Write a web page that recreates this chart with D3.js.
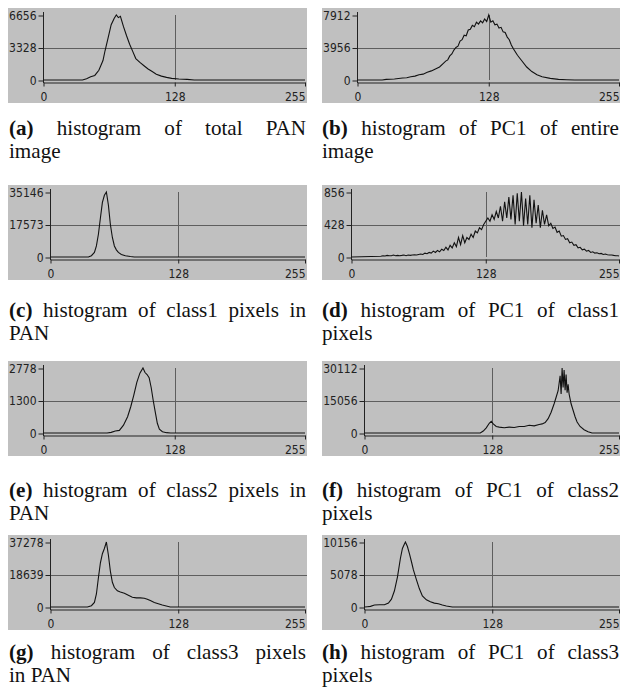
<!DOCTYPE html>
<html>
<head>
<meta charset="utf-8">
<script src="https://cdn.jsdelivr.net/npm/d3@7"></script>
<style>
  body { margin: 0; background: #fff; }
  svg { display: block; }
  .tick text, .probe { font-family: "Liberation Sans Narrow", "DejaVu Sans Condensed", "Arial Narrow", sans-serif; font-size: 12px; fill: #222; }
  .caption { font-family: "Liberation Serif", "Times New Roman", "DejaVu Serif Condensed", serif; font-size: 22px; fill: #111; }
</style>
</head>
<body>
<div id="figure"></div>
<script>
var width = 620;
var height = 693;

// x ticks are the same for every histogram (grey levels)
var xTicks = [0, 128, 255];

// (a) total PAN
var aBins   = [0, 38, 42, 46, 50, 54, 58, 60, 63, 66, 69, 71, 73, 75, 78, 81, 84, 87, 90, 94, 98, 102, 106, 110, 115, 120, 125, 132, 140, 147, 255];
var aCounts = [0, 0, 133, 333, 466, 998, 1997, 2995, 4326, 5658, 6323, 6656, 6390, 6523, 5458, 4526, 3661, 2929, 2196, 1797, 1464, 1132, 865, 599, 399, 266, 166, 100, 67, 0, 0];
var aYTicks = [0, 3328, 6656];
var aYLabels = ["0", "3328", "6656"];

// (b) PC1 of entire image
var bBins   = [0, 24, 28, 36, 44, 48, 52, 56, 60, 64, 68, 72, 76, 80, 84, 86, 88, 90, 92, 94, 96, 98, 100, 102, 104, 106, 108, 110, 112, 114, 116, 118, 120, 122, 124, 126, 128, 130, 132, 134, 136, 138, 140, 142, 144, 146, 148, 150, 152, 156, 160, 165, 170, 175, 180, 188, 196, 204, 212, 255];
var bCounts = [0, 0, 79, 119, 237, 277, 396, 475, 633, 712, 949, 1108, 1345, 1582, 2057, 2294, 2453, 2927, 3165, 3640, 3956, 4114, 4747, 4905, 5459, 5380, 6092, 6171, 6646, 6488, 7042, 6804, 7200, 6963, 7437, 7121, 7912, 7042, 7200, 6725, 6804, 6330, 6409, 5855, 5776, 5222, 4905, 4272, 3798, 3007, 2374, 1582, 1029, 633, 396, 198, 79, 32, 0, 0];
var bYTicks = [0, 3956, 7912];
var bYLabels = ["0", "3956", "7912"];

// (c) class1 pixels in PAN
var cBins   = [0, 38, 41, 44, 46, 48, 50, 52, 54, 56, 58, 60, 62, 64, 66, 68, 71, 75, 80, 84, 255];
var cCounts = [0, 0, 703, 2460, 5975, 12301, 21088, 29523, 33389, 35146, 28117, 17573, 10544, 5975, 3866, 2460, 1406, 703, 281, 0, 0];
var cYTicks = [0, 17573, 35146];
var cYLabels = ["0", "17573", "35146"];

// (d) PC1 of class1 pixels
var dBins   = [0, 28, 30, 32, 34, 36, 38, 40, 42, 44, 46, 48, 50, 52, 54, 56, 58, 60, 62, 64, 66, 68, 70, 72, 74, 76, 78, 80, 82, 84, 86, 88, 90, 92, 94, 96, 98, 100, 102, 104, 106, 108, 110, 112, 114, 116, 118, 120, 122, 124, 126, 128, 130, 132, 134, 136, 138, 140, 142, 144, 146, 148, 150, 152, 154, 156, 158, 160, 162, 164, 166, 168, 170, 172, 174, 176, 178, 180, 182, 184, 186, 188, 190, 192, 194, 196, 198, 200, 202, 204, 206, 208, 210, 212, 214, 216, 218, 220, 222, 224, 226, 228, 230, 232, 234, 236, 238, 240, 242, 244, 246, 248, 250, 252, 254, 255];
var dCounts = [0, 9, 17, 13, 21, 17, 17, 26, 17, 21, 17, 21, 26, 17, 26, 21, 26, 30, 26, 34, 39, 34, 51, 43, 60, 51, 77, 60, 86, 68, 103, 86, 128, 94, 154, 120, 188, 137, 257, 163, 282, 188, 257, 231, 300, 257, 342, 317, 385, 360, 428, 471, 514, 471, 556, 496, 599, 514, 668, 471, 728, 514, 788, 496, 813, 428, 839, 471, 856, 411, 770, 428, 813, 385, 753, 445, 685, 385, 616, 428, 556, 411, 445, 377, 394, 325, 342, 274, 282, 231, 240, 188, 197, 154, 163, 120, 128, 94, 103, 77, 86, 60, 68, 51, 56, 43, 47, 34, 39, 30, 26, 26, 21, 17, 17, 13];
var dYTicks = [0, 428, 856];
var dYLabels = ["0", "428", "856"];

// (e) class2 pixels in PAN
var eBins   = [0, 62, 66, 70, 74, 78, 82, 85, 88, 91, 94, 97, 99, 101, 103, 105, 107, 109, 111, 113, 116, 120, 124, 255];
var eCounts = [0, 0, 28, 83, 111, 333, 695, 1111, 1611, 2167, 2556, 2778, 2584, 2500, 2361, 1945, 1389, 889, 417, 167, 56, 14, 0, 0];
var eYTicks = [0, 1389, 2778];
var eYLabels = ["0", "1300", "2778"];

// (f) PC1 of class2 pixels
var fBins   = [0, 116, 119, 122, 125, 127, 129, 132, 135, 140, 145, 150, 155, 160, 165, 170, 175, 178, 181, 184, 187, 190, 192, 194, 196, 197, 198, 199, 200, 201, 202, 203, 204, 205, 207, 209, 211, 213, 216, 220, 224, 228, 255];
var fCounts = [0, 0, 903, 2409, 4517, 5420, 4216, 3011, 2710, 2409, 2710, 2560, 3011, 3011, 3613, 3312, 3915, 4216, 4818, 6625, 9636, 13550, 16562, 19573, 26499, 18067, 30112, 21078, 29209, 19874, 27101, 18669, 22584, 18067, 13550, 10539, 7528, 5119, 3011, 1506, 602, 0, 0];
var fYTicks = [0, 15056, 30112];
var fYLabels = ["0", "15056", "30112"];

// (g) class3 pixels in PAN
var gBins   = [0, 37, 41, 44, 46, 48, 50, 52, 54, 56, 58, 60, 62, 64, 67, 70, 74, 78, 82, 86, 90, 94, 97, 100, 104, 108, 112, 116, 120, 255];
var gCounts = [0, 0, 746, 2609, 7456, 16775, 25349, 30568, 33550, 37278, 29822, 20503, 14166, 11183, 9320, 8574, 7828, 6710, 5592, 5219, 5219, 5033, 4473, 3728, 2609, 1864, 1118, 559, 0, 0];
var gYTicks = [0, 18639, 37278];
var gYLabels = ["0", "18639", "37278"];

// (h) PC1 of class3 pixels
var hBins   = [0, 3, 6, 10, 15, 20, 24, 27, 30, 33, 36, 38, 40, 41, 43, 45, 47, 49, 52, 55, 58, 62, 66, 70, 74, 78, 82, 88, 255];
var hCounts = [0, 51, 102, 305, 355, 355, 609, 1219, 2539, 4672, 7617, 9140, 9851, 10156, 9445, 8328, 7109, 5789, 4266, 2844, 1727, 1117, 812, 609, 508, 305, 152, 0, 0];
var hYTicks = [0, 5078, 10156];
var hYLabels = ["0", "5078", "10156"];

// captions: bold tag, first line, second line
var captionTags = ["(a)", "(b)", "(c)", "(d)", "(e)", "(f)", "(g)", "(h)"];
var captionLine1 = [
  "histogram of total PAN",
  "histogram of PC1 of entire",
  "histogram of class1 pixels in",
  "histogram of PC1 of class1",
  "histogram of class2 pixels in",
  "histogram of PC1 of class2",
  "histogram of class3 pixels",
  "histogram of PC1 of class3"
];
var captionLine2 = ["image", "image", "PAN", "pixels", "PAN", "pixels", "in PAN", "pixels"];

var panels = [
  {bins: aBins, counts: aCounts, yTicks: aYTicks, yLabels: aYLabels},
  {bins: bBins, counts: bCounts, yTicks: bYTicks, yLabels: bYLabels},
  {bins: cBins, counts: cCounts, yTicks: cYTicks, yLabels: cYLabels},
  {bins: dBins, counts: dCounts, yTicks: dYTicks, yLabels: dYLabels},
  {bins: eBins, counts: eCounts, yTicks: eYTicks, yLabels: eYLabels},
  {bins: fBins, counts: fCounts, yTicks: fYTicks, yLabels: fYLabels},
  {bins: gBins, counts: gCounts, yTicks: gYTicks, yLabels: gYLabels},
  {bins: hBins, counts: hCounts, yTicks: hYTicks, yLabels: hYLabels}
];

// layout of the 4x2 grid
var rowTops = [8, 185, 361, 535];
var captionBase = [135, 317, 497, 659];
var lineGap = 23;
var colLeft = [8, 322];
var colRight = [307, 621];
var boxHeight = 95;
var squeeze = 0.96; // fallback serif runs a touch wide

var svg = d3.select("#figure")
  .append("svg")
  .attr("width", width)
  .attr("height", height);

panels.forEach(function (p, i) {
  var row = Math.floor(i / 2);
  var col = i % 2;
  var top = rowTops[row];
  var left = colLeft[col];
  var right = colRight[col];

  var g = svg.append("g").attr("class", "panel");

  g.append("rect")
    .attr("x", left)
    .attr("y", top)
    .attr("width", right - left)
    .attr("height", boxHeight)
    .attr("fill", "#c0c0c0");

  // widest y label decides where the y axis sits
  var labelW = d3.max(p.yLabels, function (t) {
    var probe = g.append("text").attr("class", "probe").text(t);
    var w = probe.node().getComputedTextLength();
    probe.remove();
    return w;
  });
  var axisX = Math.round(left + labelW + 8) + 0.5;
  var zeroY = top + 72;
  var maxY = top + 7;

  var x = d3.scaleLinear().domain([0, 255]).range([axisX, right - 2]);
  var y = d3.scaleLinear().domain([0, p.yTicks[2]]).range([zeroY, maxY]);

  // grid: middle horizontal line and vertical line at 128
  g.append("line")
    .attr("x1", axisX).attr("x2", right)
    .attr("y1", Math.round(y(p.yTicks[1])) + 0.5).attr("y2", Math.round(y(p.yTicks[1])) + 0.5)
    .attr("stroke", "#5e5e5e");
  g.append("line")
    .attr("x1", Math.round(x(128)) + 0.5).attr("x2", Math.round(x(128)) + 0.5)
    .attr("y1", y(p.yTicks[2])).attr("y2", zeroY)
    .attr("stroke", "#5e5e5e");

  // y axis
  var yAxis = g.append("g")
    .attr("transform", "translate(" + axisX + ",0.5)")
    .call(d3.axisLeft(y)
      .tickValues(p.yTicks)
      .tickFormat(function (d, k) { return p.yLabels[k]; })
      .tickSize(5)
      .tickSizeOuter(0)
      .tickPadding(2));
  yAxis.select(".domain").remove();
  yAxis.selectAll(".tick line").attr("stroke", "#222");
  g.append("line")
    .attr("x1", axisX).attr("x2", axisX)
    .attr("y1", maxY - 3).attr("y2", zeroY + 3)
    .attr("stroke", "#222");

  // x axis, a couple of pixels under the zero line
  var xAxis = g.append("g")
    .attr("transform", "translate(0," + (zeroY + 2.5) + ")")
    .call(d3.axisBottom(x)
      .tickValues(xTicks)
      .tickSize(4)
      .tickSizeOuter(0)
      .tickPadding(6));
  xAxis.select(".domain").attr("stroke", "#222");
  xAxis.selectAll(".tick line").attr("stroke", "#222");
  xAxis.selectAll(".tick text")
    .attr("text-anchor", function (d) { return d === 255 ? "end" : "middle"; });

  // histogram line
  var line = d3.line()
    .x(function (d) { return x(d[0]); })
    .y(function (d) { return y(d[1]); });

  g.append("path")
    .datum(d3.zip(p.bins, p.counts))
    .attr("d", line)
    .attr("fill", "none")
    .attr("stroke", "#111")
    .attr("stroke-width", 1.1);

  // caption, first line justified
  var capLeft = col === 0 ? 9 : 322;
  var capRight = col === 0 ? 306 : 619;
  var baseY = captionBase[row];
  var words = [captionTags[i]].concat(captionLine1[i].split(" "));
  var nodes = words.map(function (w, k) {
    return g.append("text")
      .attr("class", "caption")
      .style("font-weight", k === 0 ? "bold" : "normal")
      .text(w);
  });
  var widths = nodes.map(function (n) { return n.node().getComputedTextLength() * squeeze; });
  var gap = (capRight - capLeft - d3.sum(widths)) / (words.length - 1);
  var cx = capLeft;
  nodes.forEach(function (n, k) {
    n.attr("transform", "translate(" + cx + "," + baseY + ") scale(" + squeeze + ",1)");
    cx += widths[k] + gap;
  });
  g.append("text")
    .attr("class", "caption")
    .attr("transform", "translate(" + capLeft + "," + (baseY + lineGap) + ") scale(" + squeeze + ",1)")
    .text(captionLine2[i]);
});
</script>
</body>
</html>
